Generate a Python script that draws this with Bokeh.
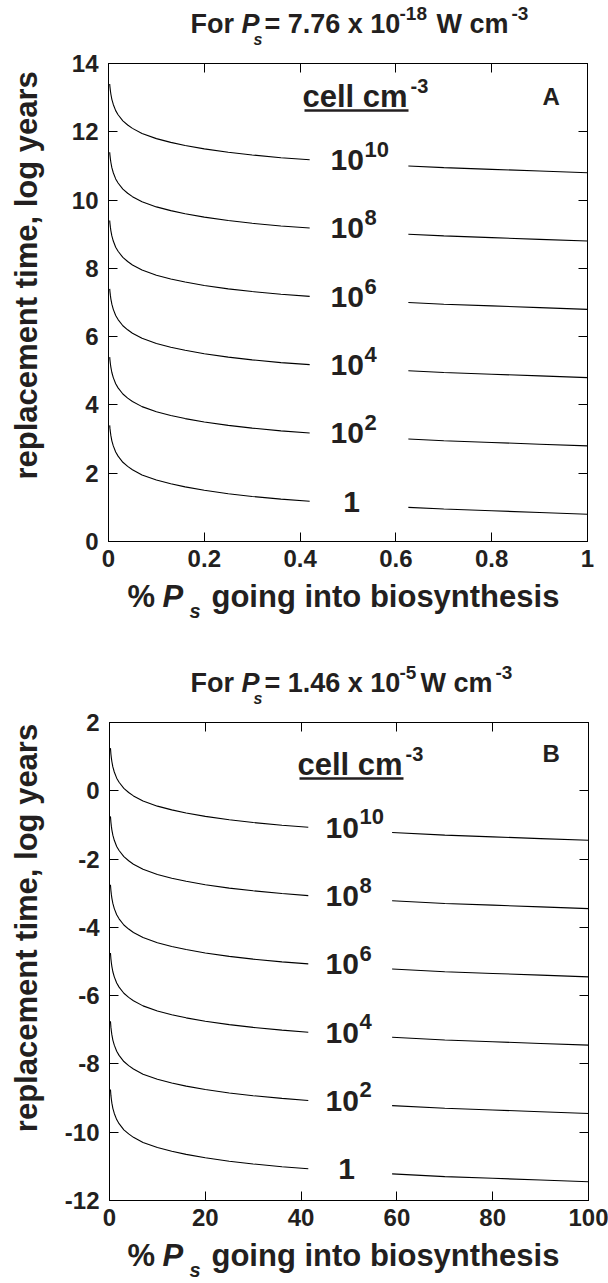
import math
from bokeh.plotting import figure
from bokeh.models import Range1d, LinearAxis, FixedTicker, Label
from bokeh.layouts import column, row
from bokeh.embed import file_html
from bokeh.resources import INLINE

# ---------------- data ----------------
density_exponents = [0, 2, 4, 6, 8, 10]
density_main = ["1", "10", "10", "10", "10", "10"]
density_sup = ["", "2", "4", "6", "8", "10"]

# Panel A (P_s = 7.76e-18 W cm^-3), curve for 1 cell cm^-3 (others shifted by log density)
a_x_left = [0.0025, 0.003, 0.004, 0.005, 0.007, 0.01, 0.015, 0.02, 0.03, 0.04, 0.05,
            0.07, 0.1, 0.13, 0.16, 0.2, 0.25, 0.3, 0.36, 0.42]
a_y_left = [3.40, 3.32, 3.20, 3.10, 2.95, 2.80, 2.62, 2.50, 2.32, 2.20, 2.10,
            1.95, 1.80, 1.69, 1.60, 1.50, 1.40, 1.32, 1.24, 1.18]
a_x_right = [0.626, 0.7, 0.8, 0.9, 1.0]
a_y_right = [1.00, 0.95, 0.90, 0.85, 0.80]
a_xticks = [0, 0.2, 0.4, 0.6, 0.8, 1]
a_xtick_labels = ["0", "0.2", "0.4", "0.6", "0.8", "1"]
a_yticks = [0, 2, 4, 6, 8, 10, 12, 14]
a_ytick_labels = ["0", "2", "4", "6", "8", "10", "12", "14"]

# Panel B (P_s = 1.46e-5 W cm^-3)
b_x_left = [0.2, 0.3, 0.4, 0.5, 0.7, 1, 1.5, 2, 3, 4, 5, 7, 10, 13, 16, 20, 25, 30, 36, 41.5]
b_y_left = [-8.75, -8.93, -9.05, -9.15, -9.30, -9.45, -9.63, -9.75, -9.93, -10.05, -10.15,
            -10.30, -10.45, -10.56, -10.65, -10.75, -10.85, -10.93, -11.01, -11.07]
b_x_right = [59, 70, 80, 90, 100]
b_y_right = [-11.22, -11.30, -11.35, -11.40, -11.45]
b_xticks = [0, 20, 40, 60, 80, 100]
b_xtick_labels = ["0", "20", "40", "60", "80", "100"]
b_yticks = [-12, -10, -8, -6, -4, -2, 0, 2]
b_ytick_labels = ["-12", "-10", "-8", "-6", "-4", "-2", "0", "2"]

FONT = "Liberation Sans"
TXT = "#231f20"
W = 608
YLAB_W = 55
BOTTOM_BORDER = 36


def text_fig(width, height, px0, py0):
    """Figure whose frame is the whole area; coordinates = page pixels (y downward)."""
    f = figure(width=width, height=height, x_range=Range1d(px0, px0 + width),
               y_range=Range1d(py0 + height, py0), output_backend="svg",
               toolbar_location=None, x_axis_type=None, y_axis_type=None,
               min_border=0, min_border_left=0, min_border_right=0,
               min_border_top=0, min_border_bottom=0)
    f.outline_line_color = None
    f.grid.visible = False
    return f


def put(f, x, y, text, size, style="bold", align="left", angle=0.0):
    f.add_layout(Label(x=x, y=y, text=text, text_font=FONT, text_font_size=f"{size}px",
                       text_font_style=style, text_align=align, text_baseline="middle",
                       angle=angle, text_color=TXT))


def main_fig(xr, yr, width, height, top, bottom, left, right, xticks, xlabels, yticks, ylabels):
    p = figure(width=width, height=height, x_range=Range1d(*xr), y_range=Range1d(*yr),
               output_backend="svg", toolbar_location=None,
               min_border_left=left, min_border_right=right,
               min_border_top=top, min_border_bottom=bottom)
    p.grid.visible = False
    p.outline_line_color = "black"
    p.outline_line_width = 1
    for ax, ticks, labels in ((p.xaxis[0], xticks, xlabels), (p.yaxis[0], yticks, ylabels)):
        ax.ticker = FixedTicker(ticks=ticks)
        ax.major_label_overrides = {t: l for t, l in zip(ticks, labels)}
        ax.major_tick_in = 9
        ax.major_tick_out = 0
        ax.minor_tick_line_color = None
        ax.axis_line_color = "black"
        ax.major_tick_line_color = "black"
        ax.major_label_text_font = FONT
        ax.major_label_text_font_style = "bold"
        ax.major_label_text_font_size = "24px"
        ax.major_label_text_color = TXT
    p.xaxis[0].major_label_standoff = 8
    p.yaxis[0].major_label_standoff = 10
    for place, ticks in (("above", xticks), ("right", yticks)):
        ax = LinearAxis(ticker=FixedTicker(ticks=ticks), major_tick_in=9, major_tick_out=0,
                        minor_tick_line_color=None, major_label_text_font_size="0px",
                        major_label_text_color=None, major_label_standoff=0)
        p.add_layout(ax, place)
    return p


def build_panel(xr, yr, frame, page_top, page_bottom, title_h, xticks, xlabels,
                yticks, ylabels, xl, yl, xr_, yr_, label_main_px, label_one_px, label_off,
                sup_dy, title_parts, letter, cell_base, ylab_center, xlab_base):
    fl, fr, ft, fb = frame
    mid_top = page_top + title_h
    mid_bottom = fb + BOTTOM_BORDER
    mid_h = mid_bottom - mid_top
    xlab_h = page_bottom - mid_bottom
    # title
    tf = text_fig(W, title_h, 0, page_top)
    for (px, base, t, size, style) in title_parts:
        put(tf, px, base - 0.35 * size, t, size, style)
    # y label
    yf = text_fig(YLAB_W, mid_h, 0, mid_top)
    put(yf, ylab_center[0], ylab_center[1], "replacement time, log years", 31,
        align="center", angle=math.pi / 2)
    # main plot
    p = main_fig(xr, yr, W - YLAB_W, mid_h, ft - mid_top, BOTTOM_BORDER, fl - YLAB_W,
                 W - fr, xticks, xlabels, yticks, ylabels)

    def conv(px, py):
        return (xr[0] + (px - fl) / (fr - fl) * (xr[1] - xr[0]),
                yr[1] - (py - ft) / (fb - ft) * (yr[1] - yr[0]))

    xm = conv(label_main_px, 0)[0]
    xs = conv(label_main_px + 34, 0)[0]
    xo = conv(label_one_px, 0)[0]
    for e, m, s in zip(density_exponents, density_main, density_sup):
        p.line(xl, [v + e for v in yl], line_color="black", line_width=1.1)
        p.line(xr_, [v + e for v in yr_], line_color="black", line_width=1.1)
        yc = e + label_off
        if s:
            p.add_layout(Label(x=xm, y=yc, text=m, text_font=FONT, text_font_size="30px",
                               text_font_style="bold", text_align="left",
                               text_baseline="middle", text_color=TXT))
            p.add_layout(Label(x=xs, y=yc + sup_dy, text=s, text_font=FONT,
                               text_font_size="22px", text_font_style="bold",
                               text_align="left", text_baseline="middle", text_color=TXT))
        else:
            p.add_layout(Label(x=xo, y=yc, text=m, text_font=FONT, text_font_size="30px",
                               text_font_style="bold", text_align="center",
                               text_baseline="middle", text_color=TXT))
    # panel letter
    lx, ly = conv(letter[0], letter[1] - 0.35 * 24)
    p.add_layout(Label(x=lx, y=ly, text=letter[2], text_font=FONT, text_font_size="24px",
                       text_font_style="bold", text_baseline="middle", text_color=TXT))
    # cell cm^-3 (underlined)
    cx, cb = cell_base
    x0, y0 = conv(cx, cb - 0.35 * 31)
    p.add_layout(Label(x=x0, y=y0, text="cell cm", text_font=FONT, text_font_size="31px",
                       text_font_style="bold", text_baseline="middle", text_color=TXT))
    x0, y0 = conv(cx + 108, cb - 15 - 0.35 * 20)
    p.add_layout(Label(x=x0, y=y0, text="-3", text_font=FONT, text_font_size="20px",
                       text_font_style="bold", text_baseline="middle", text_color=TXT))
    ux0, uy = conv(cx + 2, cb + 3)
    ux1, _ = conv(cx + 106, cb + 3)
    p.segment(x0=[ux0], y0=[uy], x1=[ux1], y1=[uy], line_color=TXT, line_width=2.5)
    # x label
    xf = text_fig(W, xlab_h, 0, mid_bottom)
    c = xlab_base - 0.35 * 31
    put(xf, 127, c, "%", 31)
    put(xf, 162, c, "P", 31, style="bold italic")
    put(xf, 189, xlab_base + 10 - 0.35 * 20, "s", 20, style="bold italic")
    put(xf, 211, c, "going into biosynthesis", 31)
    return column(tf, row(yf, p, spacing=0), xf, spacing=0)


titleA = [(190, 33, "For", 27, "bold"), (241, 33, "P", 27, "bold italic"),
          (253, 45, "s", 16, "bold italic"), (264, 33, "= 7.76 x 10", 27, "bold"),
          (399, 20, "-18", 19, "bold"), (436, 33, "W cm", 27, "bold"),
          (511, 20, "-3", 19, "bold")]
panelA = build_panel((0, 1), (0, 14), (108, 587, 63, 541), 0, 641, 49,
                     a_xticks, a_xtick_labels, a_yticks, a_ytick_labels,
                     a_x_left, a_y_left, a_x_right, a_y_right,
                     330, 351, 1.17, 0.31, titleA, (542, 104, "A"), (302, 107),
                     (26, 283), 607)

titleB = [(190, 692, "For", 27, "bold"), (241, 692, "P", 27, "bold italic"),
          (253, 704, "s", 16, "bold italic"), (264, 692, "= 1.46 x 10", 27, "bold"),
          (399, 679, "-5", 19, "bold"), (420, 692, "W cm", 27, "bold"),
          (495, 679, "-3", 19, "bold")]
panelB = build_panel((0, 100), (-12, 2), (109, 588, 722, 1200), 641, 1283, 67,
                     b_xticks, b_xtick_labels, b_yticks, b_ytick_labels,
                     b_x_left, b_y_left, b_x_right, b_y_right,
                     325, 346, -11.08, 0.32, titleB, (542, 761, "B"), (297, 775),
                     (26, 935), 1266)

layout = column(panelA, panelB, spacing=0)
open("out.html", "w").write(file_html(layout, INLINE))
